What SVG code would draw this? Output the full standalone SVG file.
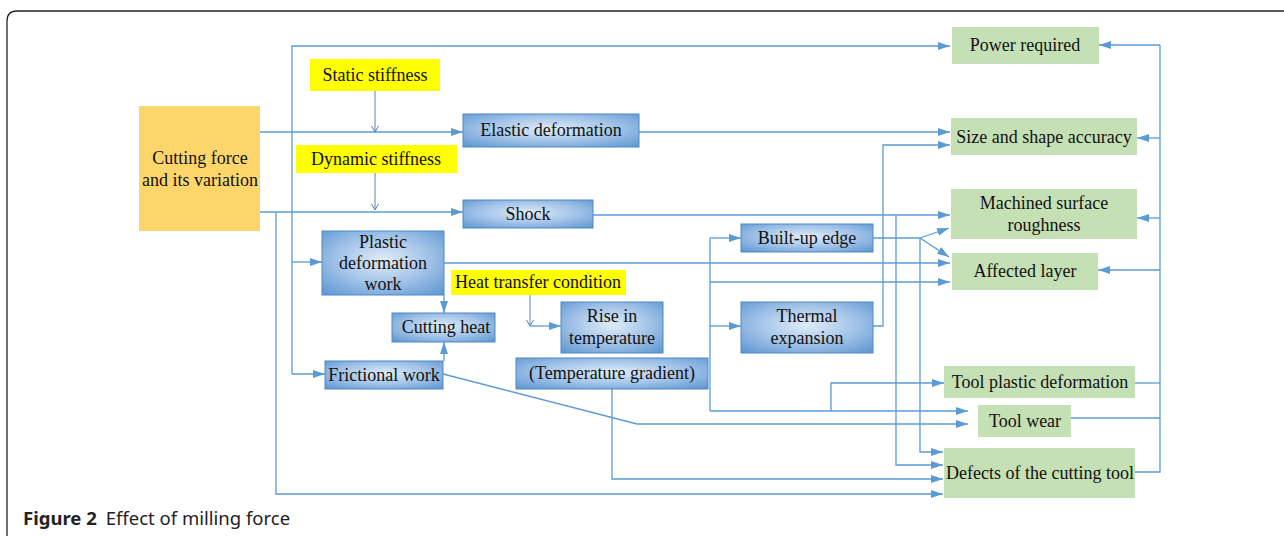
<svg xmlns="http://www.w3.org/2000/svg" width="1284" height="536" viewBox="0 0 1284 536">
  <defs>
    <radialGradient id="blueFill" cx="0.5" cy="0.45" r="0.75">
      <stop offset="0" stop-color="#E0ECF8"/>
      <stop offset="0.5" stop-color="#A2C3E8"/>
      <stop offset="1" stop-color="#5893D0"/>
    </radialGradient>
    <marker id="arrow" markerUnits="userSpaceOnUse" markerWidth="13" markerHeight="9" refX="12" refY="4" orient="auto">
      <path d="M0,0 L12,4 L0,8 Z" fill="#5B9BD5"/>
    </marker>
    <marker id="vee" markerUnits="userSpaceOnUse" markerWidth="8" markerHeight="8" refX="6" refY="3.5" orient="auto">
      <path d="M0,0 L6,3.5 L0,7" fill="none" stroke="#5F7FA8" stroke-width="1"/>
    </marker>
  </defs>
  <style>
    text { font-family: "Liberation Serif", "Times New Roman", serif; font-size: 18px; fill: #111; text-anchor: middle; }
    .src { fill: #FDD66B; }
    .cond { fill: #FFFF00; }
    .mid { fill: url(#blueFill); stroke: #4F89C6; stroke-width: 1; }
    .out { fill: #C5E0B4; }
    .wire { fill: none; stroke: #5B9BD5; stroke-width: 1.3; }
    .head { marker-end: url(#arrow); }
    .thin { fill: none; stroke: #5B86BA; stroke-width: 1; marker-end: url(#vee); }
    .frame { fill: none; stroke: #222; stroke-width: 1.3; }
    .cap { font-family: "Noto Sans", "Open Sans", sans-serif; font-size: 18.5px; text-anchor: start; fill: #222; }
  </style>

  <rect width="1284" height="536" fill="#fff"/>
  <path class="frame" d="M7,536 V21 Q7,11 17,11 H1284"/>

  <!-- connectors -->
  <g id="connectors">
    <!-- left trunks from the cutting force -->
    <path class="wire head" d="M292,374 V46 H950"/>
    <path class="wire head" d="M292,262 H322"/>
    <path class="wire head" d="M292,374 H325"/>
    <path class="wire head" d="M260,132 H463"/>
    <path class="wire head" d="M260,212 H463"/>
    <path class="wire head" d="M276,212 V494 H943"/>
    <!-- stiffness influences -->
    <path class="thin" d="M375,91 V132"/>
    <path class="thin" d="M375,173 V210"/>
    <!-- elastic deformation / shock -->
    <path class="wire head" d="M639,132 H950"/>
    <path class="wire head" d="M593,215 H950"/>
    <path class="wire head" d="M896,215 V465 H943"/>
    <!-- plastic deformation work -->
    <path class="wire head" d="M444,263 H950"/>
    <path class="wire head" d="M444,295 V313"/>
    <path class="wire head" d="M444,361 V342"/>
    <!-- frictional work to tool wear -->
    <path class="wire head" d="M443,374 L637,424 H968"/>
    <!-- heat transfer -->
    <path class="thin" d="M530,294 V326"/>
    <path class="wire head" d="M530,326 H561"/>
    <!-- temperature trunk -->
    <path class="wire" d="M710,238 V411"/>
    <path class="wire head" d="M710,238 H741"/>
    <path class="wire head" d="M710,326 H741"/>
    <path class="wire head" d="M710,282 H950"/>
    <path class="wire head" d="M710,411 H968"/>
    <path class="wire head" d="M831,411 V383 H944"/>
    <path class="wire head" d="M612,389 V479 H943"/>
    <!-- built-up edge -->
    <path class="wire" d="M873,238 H920"/>
    <path class="wire head" d="M920,238 L949,228"/>
    <path class="wire head" d="M920,238 L949,257"/>
    <path class="wire head" d="M920,238 V452 H943"/>
    <!-- thermal expansion -->
    <path class="wire head" d="M873,326 H883 V145 H950"/>
    <!-- feedback bus from tool effects -->
    <path class="wire" d="M1135,383 H1160"/>
    <path class="wire" d="M1071,418 H1160"/>
    <path class="wire" d="M1135,472 H1160 V45"/>
    <path class="wire head" d="M1160,45 H1099"/>
    <path class="wire head" d="M1160,138 H1137"/>
    <path class="wire head" d="M1160,218 H1137"/>
    <path class="wire head" d="M1160,270 H1098"/>
  </g>

  <!-- source -->
  <g id="cutting-force">
    <rect class="src" x="139" y="106" width="121" height="125"/>
    <text x="200" y="164">Cutting force</text>
    <text x="200" y="186">and its variation</text>
  </g>

  <!-- conditions -->
  <g id="static-stiffness">
    <rect class="cond" x="310" y="59" width="130" height="32"/>
    <text x="375" y="81">Static stiffness</text>
  </g>
  <g id="dynamic-stiffness">
    <rect class="cond" x="296" y="145" width="161" height="28"/>
    <text x="376" y="165">Dynamic stiffness</text>
  </g>
  <g id="heat-transfer">
    <rect class="cond" x="451" y="270" width="175" height="25"/>
    <text x="538" y="288">Heat transfer condition</text>
  </g>

  <!-- intermediate effects -->
  <g id="elastic-deformation">
    <rect class="mid" x="463" y="114" width="176" height="33"/>
    <text x="551" y="136">Elastic deformation</text>
  </g>
  <g id="shock">
    <rect class="mid" x="463" y="200" width="130" height="28"/>
    <text x="528" y="220">Shock</text>
  </g>
  <g id="plastic-deformation-work">
    <rect class="mid" x="322" y="231" width="122" height="64"/>
    <text x="383" y="248">Plastic</text>
    <text x="383" y="269">deformation</text>
    <text x="383" y="290">work</text>
  </g>
  <g id="cutting-heat">
    <rect class="mid" x="392" y="313" width="103" height="29"/>
    <text x="446" y="333">Cutting heat</text>
  </g>
  <g id="frictional-work">
    <rect class="mid" x="325" y="361" width="118" height="28"/>
    <text x="384" y="381">Frictional work</text>
  </g>
  <g id="rise-in-temperature">
    <rect class="mid" x="561" y="302" width="102" height="51"/>
    <text x="612" y="322">Rise in</text>
    <text x="612" y="344">temperature</text>
  </g>
  <g id="temperature-gradient">
    <rect class="mid" x="516" y="358" width="192" height="31"/>
    <text x="612" y="379">(Temperature gradient)</text>
  </g>
  <g id="built-up-edge">
    <rect class="mid" x="741" y="224" width="132" height="28"/>
    <text x="807" y="244">Built-up edge</text>
  </g>
  <g id="thermal-expansion">
    <rect class="mid" x="741" y="302" width="132" height="51"/>
    <text x="807" y="322">Thermal</text>
    <text x="807" y="344">expansion</text>
  </g>

  <!-- outcomes -->
  <g id="power-required">
    <rect class="out" x="952" y="27" width="147" height="37"/>
    <text x="1025" y="51">Power required</text>
  </g>
  <g id="size-accuracy">
    <rect class="out" x="951" y="118" width="186" height="37"/>
    <text x="1044" y="143">Size and shape accuracy</text>
  </g>
  <g id="surface-roughness">
    <rect class="out" x="951" y="189" width="186" height="50"/>
    <text x="1044" y="209">Machined surface</text>
    <text x="1044" y="231">roughness</text>
  </g>
  <g id="affected-layer">
    <rect class="out" x="952" y="253" width="146" height="37"/>
    <text x="1025" y="277">Affected layer</text>
  </g>
  <g id="tool-plastic-deformation">
    <rect class="out" x="944" y="366" width="191" height="32"/>
    <text x="1040" y="388">Tool plastic deformation</text>
  </g>
  <g id="tool-wear">
    <rect class="out" x="978" y="405" width="93" height="32"/>
    <text x="1025" y="427">Tool wear</text>
  </g>
  <g id="tool-defects">
    <rect class="out" x="944" y="448" width="191" height="50"/>
    <text x="1040" y="479">Defects of the cutting tool</text>
  </g>

  <!-- caption -->
  <text class="cap" x="23" y="525"><tspan font-weight="bold">Figure 2</tspan><tspan dx="9">Effect of milling force</tspan></text>
</svg>
